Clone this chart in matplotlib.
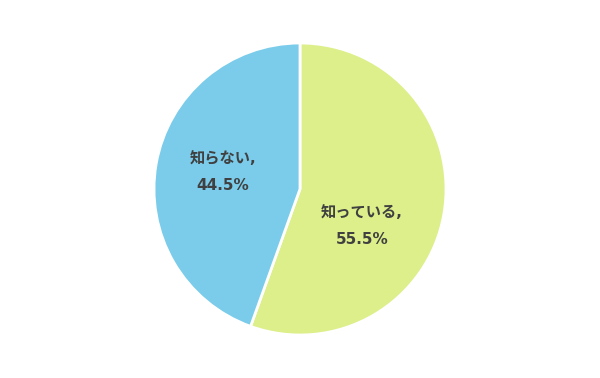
import matplotlib.pyplot as plt

plt.rcParams['font.family'] = ['DejaVu Sans', 'Noto Sans CJK JP']

# データ
labels = ['知っている', '知らない']
values = [55.5, 44.5]
colors = ['#dcef8a', '#7accea']

fig = plt.figure(figsize=(6, 3.78), dpi=100)
ax = fig.add_axes([0, 0, 1, 1])

# 円グラフ（12時から時計回り）
wedges, _ = ax.pie(values, colors=colors, startangle=90, counterclock=False,
                   center=(300, 189), radius=146, frame=True,
                   wedgeprops=dict(edgecolor='white', linewidth=2))
ax.set_xlim(0, 600)
ax.set_ylim(0, 378)
ax.set_aspect('equal')
ax.axis('off')

# ラベル位置（ピクセル）
label_pos = [(362, 226), (223, 172)]
for lab, v, (x, y) in zip(labels, values, label_pos):
    ax.text(x, 378 - y, f'{lab},\n\n{v}%', ha='center', va='center',
            fontsize=11, fontweight='bold', color='#404040', linespacing=0.9)

fig.savefig('out.png', dpi=100)
